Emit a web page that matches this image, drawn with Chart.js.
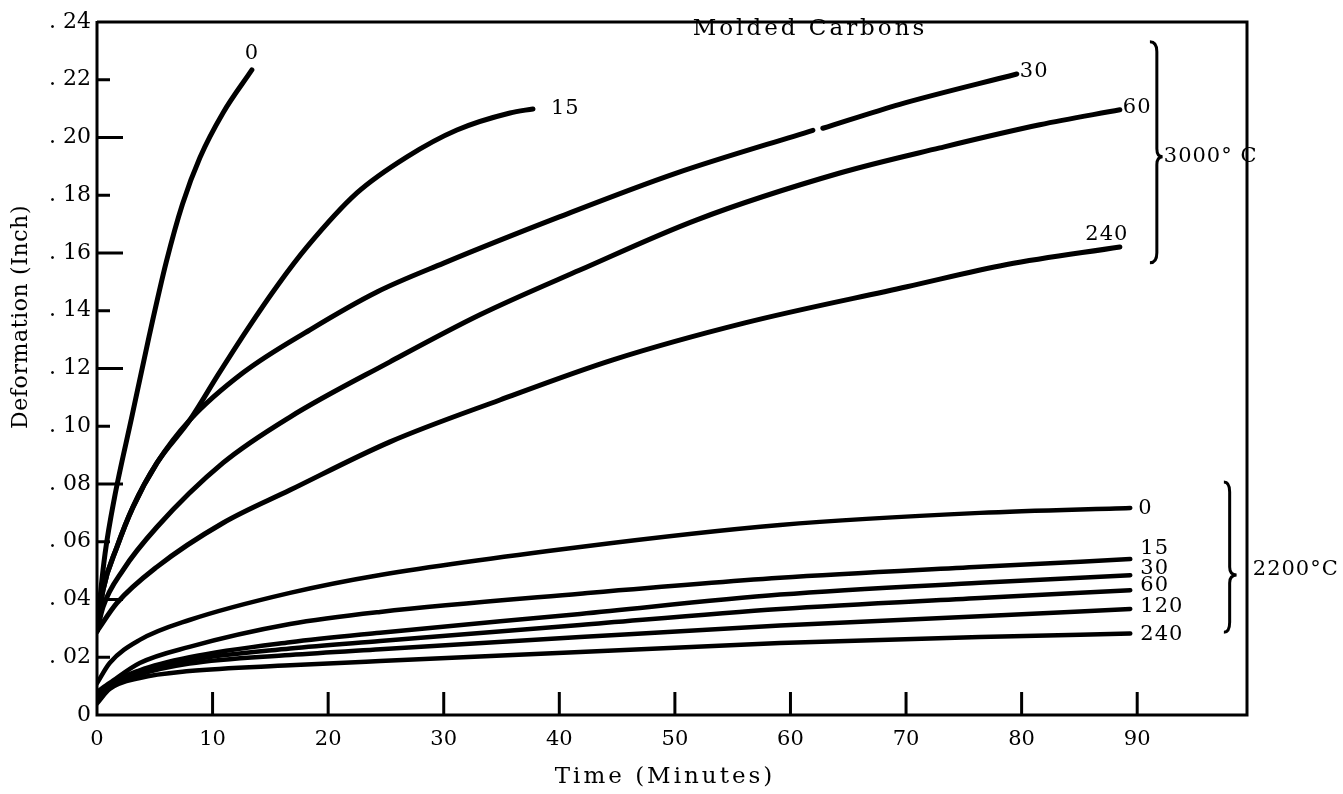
<!DOCTYPE html>
<html>
<head>
<meta charset="utf-8">
<title>Molded Carbons</title>
<script src="https://cdn.jsdelivr.net/npm/chart.js@4.4.1/dist/chart.umd.min.js"></script>
<style>
  html, body { margin: 0; padding: 0; background: #fff; }
  #wrap { width: 1343px; height: 794px; }
</style>
</head>
<body>
<div id="wrap"><canvas id="creep" width="1343" height="794"></canvas></div>
<script>
// tick labels
const xTickLabels = ["0", "10", "20", "30", "40", "50", "60", "70", "80", "90"];
const yTickLabels = ["0", ". 02", ". 04", ". 06", ". 08", ". 10", ". 12", ". 14", ". 16", ". 18", ". 20", ". 22", ". 24"];

// 3000 C curves (time in minutes, deformation in inches)
const names3000 = ["0", "15", "30", "60", "240"];
const t3000_0 = [0, 0.3, 0.7, 1.5, 3, 4.5, 6, 7.4, 8.9, 10.9, 13.4];
const d3000_0 = [0.029, 0.042, 0.056, 0.075, 0.103, 0.131, 0.157, 0.177, 0.193, 0.2085, 0.2234];
const t3000_15 = [0, 0.52, 1.73, 3.11, 5.19, 8.04, 10.47, 12.98, 15.57, 18.17, 22.49, 26.82, 31.14, 35.73, 37.72];
const d3000_15 = [0.029, 0.0433, 0.0582, 0.072, 0.0873, 0.1022, 0.1178, 0.1334, 0.1485, 0.1621, 0.1808, 0.1933, 0.2026, 0.2085, 0.2099];
const t3000_30 = [0, 0.52, 1.73, 3.11, 5.19, 8.04, 12.63, 18.43, 24.22, 30, 40, 50, 61.94, 62.4, 62.8, 69.46, 79.58];
const d3000_30 = [0.029, 0.0433, 0.0582, 0.072, 0.0873, 0.1022, 0.1185, 0.1334, 0.1465, 0.1565, 0.1725, 0.1875, 0.2025, null, 0.2032, 0.2115, 0.222];
const t3000_60 = [0, 0.52, 2.25, 5.19, 10.9, 16.7, 25.35, 33.13, 41.78, 51.9, 64.27, 72.92, 81.57, 88.5];
const d3000_60 = [0.029, 0.0374, 0.0502, 0.0651, 0.0873, 0.1032, 0.1223, 0.1386, 0.1541, 0.1715, 0.1877, 0.1964, 0.2044, 0.2096];
const t3000_240 = [0, 1.73, 5.19, 10.9, 16.7, 25.35, 34.86, 44.64, 56.06, 70.07, 78.72, 88.5];
const d3000_240 = [0.029, 0.0388, 0.0513, 0.0665, 0.0779, 0.0946, 0.1091, 0.123, 0.1358, 0.1483, 0.156, 0.1621];

// 2200 C curves, all read on the same time grid
const names2200 = ["0", "15", "30", "60", "120", "240"];
const t2200 = [0, 1.1, 3.7, 8.0, 16.7, 24.5, 41.8, 59.1, 76.4, 89.4];
const d2200_0 = [0.011, 0.018, 0.026, 0.0329, 0.0423, 0.0485, 0.0582, 0.0658, 0.070, 0.0717];
const d2200_15 = [0.008, 0.0111, 0.018, 0.0236, 0.0315, 0.0357, 0.042, 0.0475, 0.0513, 0.054];
const d2200_30 = [0.006, 0.0105, 0.0155, 0.020, 0.0252, 0.0285, 0.035, 0.0417, 0.0458, 0.0484];
const d2200_60 = [0.005, 0.010, 0.015, 0.019, 0.023, 0.0256, 0.0312, 0.0367, 0.0405, 0.0432];
const d2200_120 = [0.005, 0.0095, 0.014, 0.0178, 0.0208, 0.0228, 0.027, 0.031, 0.0342, 0.0367];
const d2200_240 = [0.004, 0.009, 0.0128, 0.0152, 0.0172, 0.0187, 0.0218, 0.0249, 0.027, 0.0282];

const FONT = "'DejaVu Serif', serif";

function toPoints(ts, ds) {
  return ts.map((t, i) => ({ x: t, y: ds[i] }));
}

// label placement next to each curve end: [dx, dy, align]
const tagOffsets = [
  [0, -16, "center"], [18, 0, "left"], [3, -2, "left"], [3, -2, "left"], [-13, -12, "center"],
  [8, 1, "left"], [10, -11, "left"], [10, -7, "left"], [10, -5, "left"], [10, -2, "left"], [10, 1, "left"],
];

const series = [
  { name: names3000[0], pts: toPoints(t3000_0, d3000_0), w: 5 },
  { name: names3000[1], pts: toPoints(t3000_15, d3000_15), w: 5 },
  { name: names3000[2], pts: toPoints(t3000_30, d3000_30), w: 5 },
  { name: names3000[3], pts: toPoints(t3000_60, d3000_60), w: 5 },
  { name: names3000[4], pts: toPoints(t3000_240, d3000_240), w: 5 },
  { name: names2200[0], pts: toPoints(t2200, d2200_0), w: 4.5 },
  { name: names2200[1], pts: toPoints(t2200, d2200_15), w: 4.5 },
  { name: names2200[2], pts: toPoints(t2200, d2200_30), w: 4.5 },
  { name: names2200[3], pts: toPoints(t2200, d2200_60), w: 4.5 },
  { name: names2200[4], pts: toPoints(t2200, d2200_120), w: 4.5 },
  { name: names2200[5], pts: toPoints(t2200, d2200_240), w: 4.5 },
];

// curly brace in data units: x of spine, tip, curl; y of top, middle, bottom
function drawBrace(ctx, x, y, b) {
  const xs = x.getPixelForValue(b.spine);
  const xt = x.getPixelForValue(b.tip);
  const xc = x.getPixelForValue(b.curl);
  const yt = y.getPixelForValue(b.top);
  const ym = y.getPixelForValue(b.mid);
  const yb = y.getPixelForValue(b.bottom);
  ctx.beginPath();
  ctx.moveTo(xc, yt);
  ctx.quadraticCurveTo(xs, yt, xs, yt + 10);
  ctx.lineTo(xs, ym - 8);
  ctx.quadraticCurveTo(xs, ym, xt, ym);
  ctx.quadraticCurveTo(xs, ym, xs, ym + 8);
  ctx.lineTo(xs, yb - 10);
  ctx.quadraticCurveTo(xs, yb, xc, yb);
  ctx.stroke();
}

const notes = {
  id: "notes",
  beforeDraw(chart) {
    chart.ctx.letterSpacing = "0px";
  },
  afterDraw(chart) {
    const { ctx, chartArea: a, scales: { x, y } } = chart;
    ctx.save();
    ctx.strokeStyle = "#000";
    ctx.fillStyle = "#000";

    // frame
    ctx.lineWidth = 3;
    ctx.beginPath();
    ctx.moveTo(a.left, a.top - 1);
    ctx.lineTo(a.left, a.bottom);
    ctx.lineTo(a.right, a.bottom);
    ctx.lineTo(a.right, a.top);
    ctx.lineTo(a.left, a.top);
    ctx.stroke();

    // inward tick marks
    ctx.lineWidth = 3;
    x.ticks.forEach((t) => {
      if (t.value <= 0) return;
      const px = x.getPixelForValue(t.value);
      ctx.beginPath();
      ctx.moveTo(px, a.bottom);
      ctx.lineTo(px, a.bottom - 23);
      ctx.stroke();
    });
    y.ticks.forEach((t) => {
      const k = Math.round(t.value * 100);
      if (k <= 0 || k >= 24) return;
      const py = y.getPixelForValue(t.value);
      const len = (k / 2) % 2 === 0 ? 26 : 13;
      ctx.beginPath();
      ctx.moveTo(a.left, py);
      ctx.lineTo(a.left + len, py);
      ctx.stroke();
    });

    // braces for the two temperature groups
    ctx.lineWidth = 3;
    drawBrace(ctx, x, y, { spine: 91.7, tip: 92.2, curl: 91.1, top: 0.2332, mid: 0.1933, bottom: 0.1566 });
    drawBrace(ctx, x, y, { spine: 98.0, tip: 98.6, curl: 97.5, top: 0.0807, mid: 0.0485, bottom: 0.0287 });

    // curve tags at the end of each line
    ctx.font = "21px " + FONT;
    ctx.letterSpacing = "1px";
    ctx.textBaseline = "middle";
    chart.data.datasets.forEach((ds, i) => {
      const pts = ds.data.filter((p) => p.y !== null);
      const last = pts[pts.length - 1];
      const [dx, dy, align] = tagOffsets[i];
      ctx.textAlign = align;
      ctx.fillText(ds.label, x.getPixelForValue(last.x) + dx, y.getPixelForValue(last.y) + dy);
    });

    ctx.textAlign = "left";
    ctx.font = "21px " + FONT;
    ctx.letterSpacing = "1px";
    ctx.fillText("3000\u00b0 C", x.getPixelForValue(92.3), y.getPixelForValue(0.1933));
    ctx.fillText("2200\u00b0C", x.getPixelForValue(100.0), y.getPixelForValue(0.0505));

    ctx.textAlign = "center";
    ctx.font = "23px " + FONT;
    ctx.letterSpacing = "3px";
    ctx.fillText("Molded Carbons", 810, 29);

    ctx.font = "23px " + FONT;
    ctx.letterSpacing = "3px";
    ctx.fillText("Time (Minutes)", 665, 777);
    ctx.translate(21, 317);
    ctx.rotate(-Math.PI / 2);
    ctx.font = "22px " + FONT;
    ctx.letterSpacing = "0.6px";
    ctx.fillText("Deformation (Inch)", 0, 0);
    ctx.restore();
  },
};

new Chart(document.getElementById("creep"), {
  type: "line",
  data: {
    datasets: series.map((s) => ({
      label: s.name,
      data: s.pts,
      borderColor: "#000",
      borderWidth: s.w,
      borderCapStyle: "round",
      borderJoinStyle: "round",
      pointRadius: 0,
      fill: false,
      cubicInterpolationMode: "monotone",
      spanGaps: false,
    })),
  },
  options: {
    responsive: false,
    animation: false,
    events: [],
    layout: { padding: { top: 22, right: 96, left: 0, bottom: 0 } },
    plugins: { legend: { display: false }, tooltip: { enabled: false }, title: { display: false } },
    scales: {
      x: {
        type: "linear",
        min: 0,
        max: 99.5,
        grid: { display: false, drawTicks: false },
        border: { display: false },
        afterFit: (s) => { s.height = 79; },
        ticks: {
          stepSize: 10,
          includeBounds: false,
          maxRotation: 0,
          autoSkip: false,
          padding: 12,
          color: "#000",
          font: { family: FONT, size: 21 },
          callback: (v) => xTickLabels[Math.round(v / 10)] ?? "",
        },
      },
      y: {
        min: 0,
        max: 0.24,
        grid: { display: false, drawTicks: false },
        border: { display: false },
        afterFit: (s) => { s.width = 97; },
        ticks: {
          stepSize: 0.02,
          includeBounds: false,
          autoSkip: false,
          padding: 6,
          color: "#000",
          font: { family: FONT, size: 22 },
          callback: (v) => yTickLabels[Math.round(v * 50)] ?? "",
        },
      },
    },
  },
  plugins: [notes],
});
</script>
</body>
</html>
